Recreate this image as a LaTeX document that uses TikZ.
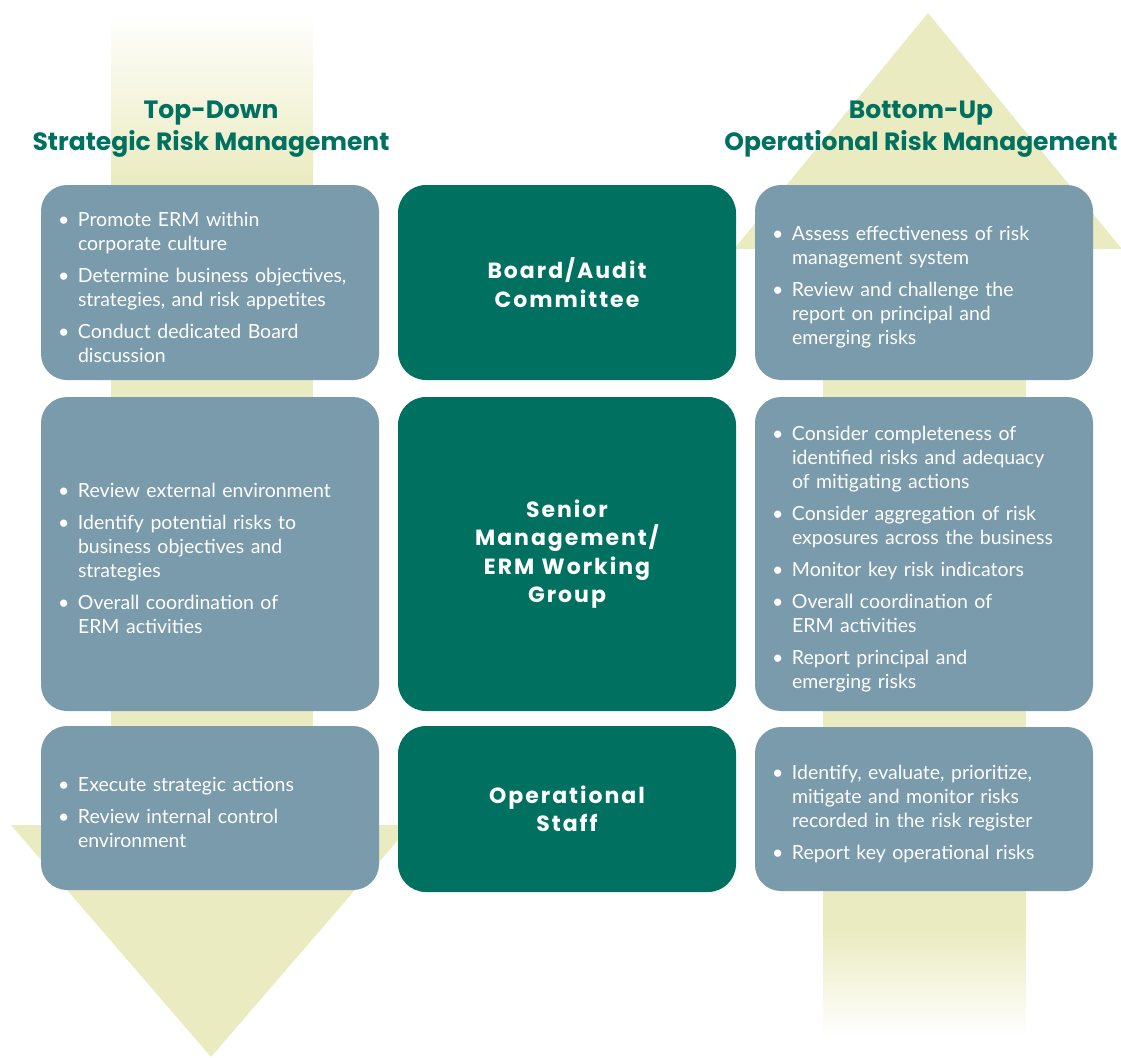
\documentclass[tikz,border=0pt]{standalone}
\usepackage{fontspec}
\setmainfont{Lato}
\newfontfamily\headfont{Poppins}
\newfontfamily\rolefont[LetterSpace=9]{Poppins}
\definecolor{arrowyellow}{RGB}{235,235,193}
\definecolor{cardgray}{RGB}{122,155,172}
\definecolor{ermgreen}{RGB}{0,113,96}
% one bullet line of a card, first item takes [0pt]
\newcommand{\riskitem}[2][8pt]{\par\vspace{#1}\noindent\hyphenpenalty=10000 \hangindent=27pt \hangafter=1 \makebox[27pt][l]{\hspace{7pt}\textbullet}#2\par}

\begin{document}
\begin{tikzpicture}[x=1pt,y=-1pt,
    card/.style={fill=cardgray,rounded corners=26pt,minimum width=338pt,
      text width=318pt,inner xsep=10pt,align=left,text=white,
      font={\fontsize{19.5}{24}\selectfont}},
    role/.style={fill=ermgreen,rounded corners=28pt,minimum width=338pt,
      text width=300pt,align=center,text=white,
      font={\rolefont\bfseries\fontsize{22}{28.5}\selectfont}},
    heading/.style={align=center,text=ermgreen,
      font={\headfont\bfseries\fontsize{25}{32}\selectfont}}]
  \useasboundingbox (0,0) rectangle (1121,1057);

  % top-down arrow
  \shade[top color=white,bottom color=arrowyellow] (111,10) rectangle (313,181);
  \fill[arrowyellow] (111,180) rectangle (313,826);
  \fill[arrowyellow] (11,825) -- (411,825) -- (211,1057) -- cycle;
  % bottom-up arrow
  \fill[arrowyellow] (928,13) -- (1122,249) -- (734,249) -- cycle;
  \fill[arrowyellow] (823,248) rectangle (1026,931);
  \shade[top color=arrowyellow,bottom color=white] (823,930) rectangle (1026,1037);

  \node[heading] (topdown) at (211,129) {Top-Down\\Strategic Risk Management};
  \node[heading] (bottomup) at (921,129) {Bottom-Up\\Operational Risk Management};

  % board level
  \node[card,minimum height=195pt] (board-l) at (210,282.5) {%
    \riskitem[0pt]{Promote ERM within\newline corporate culture}
    \riskitem{Determine business objectives,\newline strategies, and risk appetites}
    \riskitem{Conduct dedicated Board\newline discussion}};
  \node[role,minimum height=195pt] (board) at (567,282.5) {Board/Audit\\Committee};
  \node[card,minimum height=195pt] (board-r) at (924,282.5) {%
    \riskitem[0pt]{Assess effectiveness of risk\newline management system}
    \riskitem{Review and challenge the\newline report on principal and\newline emerging risks}};

  % senior management level
  \node[card,minimum height=314pt] (senior-l) at (210,554) {%
    \riskitem[0pt]{Review external environment}
    \riskitem{Identify potential risks to\newline business objectives and\newline strategies}
    \riskitem{Overall coordination of\newline ERM activities}};
  \node[role,minimum height=314pt] (senior) at (567,554) {Senior\\Management/\\ERM Working\\Group};
  \node[card,minimum height=314pt] (senior-r) at (924,554) {%
    \riskitem[0pt]{Consider completeness of\newline identified risks and adequacy\newline of mitigating actions}
    \riskitem{Consider aggregation of risk\newline exposures across the business}
    \riskitem{Monitor key risk indicators}
    \riskitem{Overall coordination of\newline ERM activities}
    \riskitem{Report principal and\newline emerging risks}};

  % operational level
  \node[card,minimum height=164pt] (staff-l) at (210,808) {%
    \riskitem[0pt]{Execute strategic actions}
    \riskitem{Review internal control\newline environment}};
  \node[role,minimum height=166pt] (staff) at (567,809) {Operational\\Staff};
  \node[card,minimum height=164pt] (staff-r) at (924,809) {%
    \riskitem[0pt]{Identify, evaluate, prioritize,\newline mitigate and monitor risks\newline recorded in the risk register}
    \riskitem{Report key operational risks}};
\end{tikzpicture}
\end{document}
